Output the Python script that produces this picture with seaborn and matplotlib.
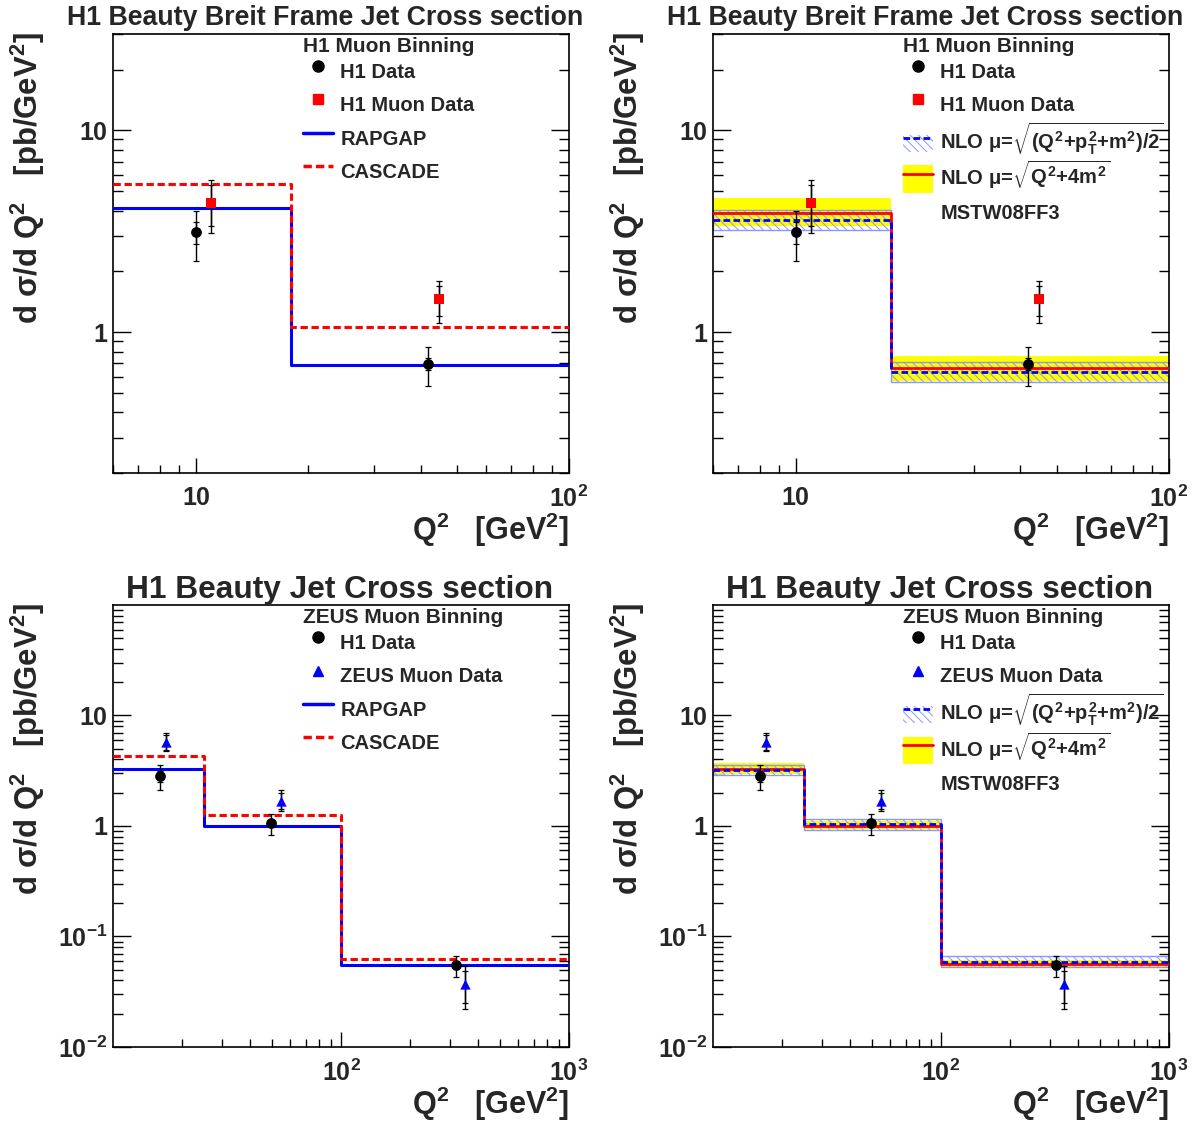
import matplotlib
matplotlib.use('Agg')
import matplotlib.pyplot as plt
import seaborn as sns
from matplotlib.lines import Line2D
from matplotlib.patches import Patch, Rectangle
from matplotlib.legend_handler import HandlerPatch
from matplotlib.ticker import FixedLocator, FixedFormatter, LogLocator, NullFormatter

# ---- H1 muon binning (top row) ----
top_edges = [6, 18, 100]
top_h1_q2 = [10.0, 42.0]
top_h1_xs = [3.12, 0.695]
top_h1_stat = [0.39, 0.046]
top_h1_up = [0.87, 0.152]
top_h1_dn = [0.86, 0.156]

top_mu_q2 = [11.0, 44.8]
top_mu_xs = [4.37, 1.45]
top_mu_stat = [1.0, 0.25]
top_mu_up = [1.32, 0.33]
top_mu_dn = [1.29, 0.34]

top_rapgap = [4.11, 0.69]
top_cascade = [5.42, 1.06]

top_nlo_pt = [3.59, 0.630]       # mu = sqrt((Q2+pT2+m2)/2)
top_nlo_pt_lo = [3.20, 0.564]
top_nlo_pt_hi = [4.02, 0.708]
top_nlo_q = [3.89, 0.664]        # mu = sqrt(Q2+4m2)
top_nlo_q_lo = [3.36, 0.570]
top_nlo_q_hi = [4.61, 0.764]

# ---- ZEUS muon binning (bottom row) ----
bot_edges = [10, 25, 100, 1000]
bot_h1_q2 = [16.0, 49.5, 320.0]
bot_h1_xs = [2.82, 1.06, 0.055]
bot_h1_stat = [0.3, 0.08, 0.004]
bot_h1_up = [0.76, 0.23, 0.011]
bot_h1_dn = [0.72, 0.24, 0.012]

bot_zeus_q2 = [17.0, 54.6, 348.0]
bot_zeus_xs = [5.77, 1.70, 0.037]
bot_zeus_stat = [0.85, 0.28, 0.012]
bot_zeus_up = [1.23, 0.40, 0.017]
bot_zeus_dn = [1.02, 0.34, 0.015]

bot_rapgap = [3.27, 1.0, 0.0547]
bot_cascade = [4.28, 1.26, 0.063]

bot_nlo_pt = [3.18, 1.049, 0.059]
bot_nlo_pt_lo = [2.88, 0.912, 0.0531]
bot_nlo_pt_hi = [3.58, 1.154, 0.0664]
bot_nlo_q = [3.31, 1.0, 0.0562]
bot_nlo_q_lo = [2.97, 0.946, 0.0531]
bot_nlo_q_hi = [3.70, 1.12, 0.0611]

# ticks / text
top_xticks = [10, 100]
top_xlabels = ['10', '$10^{2}$']
top_yticks = [1, 10]
top_ylabels = ['1', '10']
bot_xticks = [100, 1000]
bot_xlabels = ['$10^{2}$', '$10^{3}$']
bot_yticks = [0.01, 0.1, 1, 10]
bot_ylabels = ['$10^{-2}$', '$10^{-1}$', '1', '10']

top_title = 'H1 Beauty Breit Frame Jet Cross section'
bot_title = 'H1 Beauty Jet Cross section'
ylab = 'd σ/d Q$^{2}$   [pb/GeV$^{2}$]'
xlab = 'Q$^{2}$   [GeV$^{2}$]'

sns.set_theme(style='ticks')
plt.rcParams['font.family'] = ['Liberation Sans', 'DejaVu Sans']
plt.rcParams['font.weight'] = 'bold'
plt.rcParams['mathtext.fontset'] = 'custom'
plt.rcParams['mathtext.rm'] = 'Liberation Sans:bold'
plt.rcParams['mathtext.it'] = 'Liberation Sans:bold'
plt.rcParams['mathtext.bf'] = 'Liberation Sans:bold'
plt.rcParams['mathtext.sf'] = 'Liberation Sans:bold'
plt.rcParams['hatch.linewidth'] = 0.7
plt.rcParams['hatch.color'] = '#8c96ff'

BLUE = '#0000ff'
RED = '#ff0000'
YELLOW = '#ffff00'
HATCH = '#8c96ff'

fig = plt.figure(figsize=(12.04, 11.26), dpi=100)
ax_tl = fig.add_axes([0.0939, 0.5799, 0.3787, 0.3899])
ax_tr = fig.add_axes([0.5922, 0.5799, 0.3787, 0.3899])
ax_bl = fig.add_axes([0.0939, 0.0702, 0.3787, 0.3925])
ax_br = fig.add_axes([0.5922, 0.0702, 0.3787, 0.3925])


def ext(v):
    return list(v) + [v[-1]]


def steps(ax, edges, vals, color, dashed=False, lw=2.2):
    kw = dict(color=color, linewidth=lw)
    if dashed:
        kw['linestyle'] = (0, (2.4, 1.2))
    sns.lineplot(x=edges, y=ext(vals), drawstyle='steps-post', ax=ax, zorder=3, **kw)


def band(ax, edges, lo, hi, kind):
    if kind == 'yellow':
        ax.fill_between(edges, ext(lo), ext(hi), step='post', color=YELLOW, linewidth=0, zorder=1)
    else:
        ax.fill_between(edges, ext(lo), ext(hi), step='post', facecolor='none',
                        edgecolor=HATCH, hatch='\\\\\\\\', linewidth=1.0, zorder=2)


def points(ax, q2, xs, stat, up, dn, marker, color, size):
    ax.errorbar(q2, xs, yerr=[dn, up], fmt='none', ecolor='black', elinewidth=1.0,
                capsize=2, capthick=0.9, zorder=4)
    ax.errorbar(q2, xs, yerr=[stat, stat], fmt='none', ecolor='black', elinewidth=1.0,
                capsize=2, capthick=0.9, zorder=4)
    sns.scatterplot(x=q2, y=xs, marker=marker, color=color, s=size, edgecolor=color,
                    linewidth=0, ax=ax, zorder=5)


def style_axis(ax, xlim, ylim, xt, xl, yt, yl, title, tsize, tx, tpad):
    ax.set_xscale('log')
    ax.set_yscale('log')
    ax.set_xlim(*xlim)
    ax.set_ylim(*ylim)
    ax.xaxis.set_major_locator(FixedLocator(xt))
    ax.xaxis.set_major_formatter(FixedFormatter(xl))
    ax.yaxis.set_major_locator(FixedLocator(yt))
    ax.yaxis.set_major_formatter(FixedFormatter(yl))
    ax.xaxis.set_minor_locator(LogLocator(base=10, subs=range(2, 10)))
    ax.yaxis.set_minor_locator(LogLocator(base=10, subs=range(2, 10)))
    ax.xaxis.set_minor_formatter(NullFormatter())
    ax.yaxis.set_minor_formatter(NullFormatter())
    ax.tick_params(which='both', direction='in', top=False, right=True, width=1, color='black')
    ax.tick_params(axis='x', which='major', length=11, pad=9, labelsize=18)
    ax.tick_params(axis='x', which='minor', length=6)
    ax.tick_params(axis='y', which='major', length=13, pad=4, labelsize=18)
    ax.tick_params(axis='y', which='minor', length=7)
    for s in ax.spines.values():
        s.set_linewidth(1.2)
        s.set_color('black')
        s.set_visible(True)
    ax.set_title(title, fontsize=tsize, fontweight='bold', x=tx, pad=tpad)
    ax.set_ylabel(ylab, fontsize=22.4, fontweight='bold', loc='top')
    ax.yaxis.set_label_coords(-0.145, 1.005)
    ax.set_xlabel(xlab, fontsize=22, fontweight='bold', loc='right')
    ax.xaxis.set_label_coords(1.0, -0.085)


# smaller boxes for the band entries of the legend
def band_box(legend, orig_handle, xdescent, ydescent, width, height, fontsize):
    frac = 0.5 if orig_handle.get_hatch() else 0.78
    h = height * frac
    return Rectangle((-xdescent, -ydescent + (height - h) / 2), width, h)


def legend(ax, handles, labels, header, x):
    ax.text(x, 0.959, header, transform=ax.transAxes, fontsize=15, fontweight='bold',
            ha='left', va='baseline')
    ax.legend(handles, labels, loc='upper left', bbox_to_anchor=(x, 0.954),
              frameon=False, fontsize=14.5, handlelength=1.5, handleheight=2.3,
              handletextpad=0.35, labelspacing=-0.085, borderpad=0, borderaxespad=0,
              handler_map={Patch: HandlerPatch(patch_func=band_box)})


h_data = Line2D([], [], marker='o', color='black', linestyle='none', markersize=8)
h_mu = Line2D([], [], marker='s', color=RED, linestyle='none', markersize=7)
h_zeus = Line2D([], [], marker='^', color=BLUE, linestyle='none', markersize=7)
h_rap = Line2D([], [], color=BLUE, linewidth=2.5)
h_cas = Line2D([], [], color=RED, linewidth=2.5, linestyle=(0, (2.4, 1.2)))
h_nlo_pt = (Patch(facecolor='none', edgecolor=HATCH, hatch='\\\\\\\\', linewidth=0),
            Line2D([], [], color=BLUE, linewidth=2, linestyle=(0, (2.4, 1.2))))
h_nlo_q = (Patch(facecolor=YELLOW, edgecolor='none'), Line2D([], [], color=RED, linewidth=2))
h_none = Line2D([], [], color='none')
lab_pt = r'NLO $\mu$=$\sqrt{(Q^2{+}p_T^2{+}m^2)/2}$'
lab_q = r'NLO $\mu$=$\sqrt{Q^2{+}4m^2}$'

# top left: MC generators
ax = ax_tl
style_axis(ax, (6, 100), (0.2, 30), top_xticks, top_xlabels, top_yticks, top_ylabels,
           top_title, 19.3, 0.465, 6.5)
steps(ax, top_edges, top_rapgap, BLUE)
steps(ax, top_edges, top_cascade, RED, dashed=True)
points(ax, top_h1_q2, top_h1_xs, top_h1_stat, top_h1_up, top_h1_dn, 'o', 'black', 60)
points(ax, top_mu_q2, top_mu_xs, top_mu_stat, top_mu_up, top_mu_dn, 's', RED, 55)
legend(ax, [h_data, h_mu, h_rap, h_cas], ['H1 Data', 'H1 Muon Data', 'RAPGAP', 'CASCADE'],
       'H1 Muon Binning', 0.417)

# top right: NLO
ax = ax_tr
style_axis(ax, (6, 100), (0.2, 30), top_xticks, top_xlabels, top_yticks, top_ylabels,
           top_title, 19.3, 0.465, 6.5)
band(ax, top_edges, top_nlo_q_lo, top_nlo_q_hi, 'yellow')
band(ax, top_edges, top_nlo_pt_lo, top_nlo_pt_hi, 'hatch')
steps(ax, top_edges, top_nlo_q, RED, lw=2)
steps(ax, top_edges, top_nlo_pt, BLUE, dashed=True, lw=2)
points(ax, top_h1_q2, top_h1_xs, top_h1_stat, top_h1_up, top_h1_dn, 'o', 'black', 60)
points(ax, top_mu_q2, top_mu_xs, top_mu_stat, top_mu_up, top_mu_dn, 's', RED, 55)
legend(ax, [h_data, h_mu, h_nlo_pt, h_nlo_q, h_none],
       ['H1 Data', 'H1 Muon Data', lab_pt, lab_q, 'MSTW08FF3'], 'H1 Muon Binning', 0.417)

# bottom left: MC generators
ax = ax_bl
style_axis(ax, (10, 1000), (0.01, 100), bot_xticks, bot_xlabels, bot_yticks, bot_ylabels,
           bot_title, 22.8, 0.496, 5)
steps(ax, bot_edges, bot_rapgap, BLUE)
steps(ax, bot_edges, bot_cascade, RED, dashed=True)
points(ax, bot_h1_q2, bot_h1_xs, bot_h1_stat, bot_h1_up, bot_h1_dn, 'o', 'black', 60)
points(ax, bot_zeus_q2, bot_zeus_xs, bot_zeus_stat, bot_zeus_up, bot_zeus_dn, '^', BLUE, 55)
legend(ax, [h_data, h_zeus, h_rap, h_cas], ['H1 Data', 'ZEUS Muon Data', 'RAPGAP', 'CASCADE'],
       'ZEUS Muon Binning', 0.417)

# bottom right: NLO
ax = ax_br
style_axis(ax, (10, 1000), (0.01, 100), bot_xticks, bot_xlabels, bot_yticks, bot_ylabels,
           bot_title, 22.8, 0.496, 5)
band(ax, bot_edges, bot_nlo_q_lo, bot_nlo_q_hi, 'yellow')
band(ax, bot_edges, bot_nlo_pt_lo, bot_nlo_pt_hi, 'hatch')
steps(ax, bot_edges, bot_nlo_q, RED, lw=2)
steps(ax, bot_edges, bot_nlo_pt, BLUE, dashed=True, lw=2)
points(ax, bot_h1_q2, bot_h1_xs, bot_h1_stat, bot_h1_up, bot_h1_dn, 'o', 'black', 60)
points(ax, bot_zeus_q2, bot_zeus_xs, bot_zeus_stat, bot_zeus_up, bot_zeus_dn, '^', BLUE, 55)
legend(ax, [h_data, h_zeus, h_nlo_pt, h_nlo_q, h_none],
       ['H1 Data', 'ZEUS Muon Data', lab_pt, lab_q, 'MSTW08FF3'], 'ZEUS Muon Binning', 0.417)

fig.savefig('out.png', dpi=100, facecolor='white')
